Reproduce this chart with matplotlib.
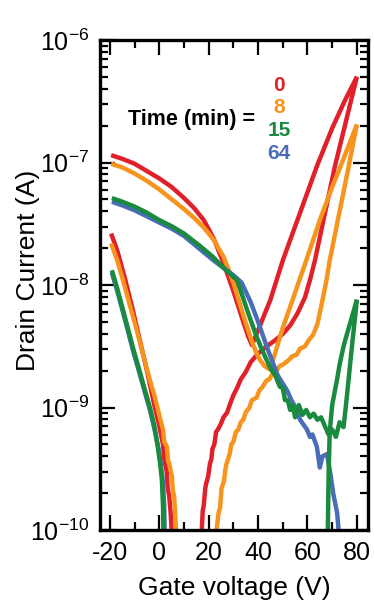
import numpy as np
import matplotlib
matplotlib.use('Agg')
import matplotlib.pyplot as plt
from matplotlib.ticker import FixedLocator, FixedFormatter, LogLocator, NullFormatter

plt.rcParams['font.family'] = ['Liberation Sans', 'DejaVu Sans']
plt.rcParams['mathtext.default'] = 'regular'
plt.rcParams['axes.unicode_minus'] = False

# colours for each time step
RED = '#E0202A'
ORANGE = '#F7941E'
GREEN = '#1A8A3F'
BLUE = '#4A6DB8'

# gate voltage (V) and log10 of drain current (A)
# 0 min, sweep back from +80 V
red_rev_v = [-19.5, -15, -10, -5, 0, 5, 10, 14, 18, 22, 26, 30, 34, 36, 37.5,
             40, 45, 50, 57, 64, 70, 75, 80]
red_rev_log = [-6.94, -6.97, -7.01, -7.07, -7.13, -7.20, -7.29, -7.37, -7.47, -7.62,
               -7.82, -8.05, -8.30, -8.42, -8.49, -8.37, -8.12, -7.80, -7.41, -7.02,
               -6.72, -6.50, -6.30]
# 0 min, sweep up from -20 V
red_fwd1_v = [-19.5, -17, -14, -11, -8, -5, -2, 0, 1.5, 2, 3, 3.4, 4, 4.6, 5, 5.5]
red_fwd1_log = [-7.58, -7.72, -7.94, -8.18, -8.44, -8.70, -8.98, -9.15, -9.30, -9.42,
                -9.52, -9.66, -9.72, -9.86, -10.0, -10.3]
red_fwd2_v = [16.8, 17.2, 17.6, 18, 18.6, 19, 19.8, 20.5, 21.1, 21.5, 22.3, 23, 24,
              25, 26, 27.5, 28.5, 30, 31.5, 33, 35, 37, 40, 43.5, 47, 50, 53, 56, 59,
              61, 63, 67, 71, 75.5, 80]
red_fwd2_log = [-10.3, -10.0, -9.84, -9.80, -9.66, -9.62, -9.56, -9.46, -9.42, -9.34,
                -9.30, -9.20, -9.17, -9.13, -9.08, -9.04, -8.98, -8.90, -8.84, -8.77,
                -8.71, -8.63, -8.56, -8.50, -8.45, -8.40, -8.33, -8.23, -8.10, -7.96,
                -7.80, -7.42, -7.04, -6.67, -6.30]

# 8 min
orange_rev_v = [-19.5, -15, -10, -5, 0, 5, 10, 14, 18, 22, 26, 28, 30, 33, 35, 37.3,
                39, 40.7, 42.5, 44.8, 47, 50, 54, 60, 65, 70, 75, 80]
orange_rev_log = [-7.01, -7.04, -7.09, -7.15, -7.22, -7.30, -7.38, -7.45, -7.53, -7.63,
                  -7.77, -7.87, -7.98, -8.18, -8.31, -8.45, -8.54, -8.61, -8.66, -8.69,
                  -8.55, -8.35, -8.12, -7.77, -7.47, -7.20, -6.95, -6.69]
orange_fwd1_v = [-19.5, -17, -14.7, -12, -9.1, -6.5, -3.8, -2, -1, 0.2, 1.5, 2, 3.1,
                 3.6, 4, 5.1, 5.5, 6, 6.4, 6.7, 7.3]
orange_fwd1_log = [-7.66, -7.80, -7.96, -8.16, -8.37, -8.57, -8.78, -8.90, -8.98, -9.08,
                   -9.18, -9.28, -9.32, -9.44, -9.46, -9.56, -9.68, -9.72, -9.86, -9.98,
                   -10.3]
orange_fwd2_v = [22.8, 23.2, 24, 24.6, 25.2, 26.2, 26.8, 27.2, 28.5, 29.2, 30, 31, 32,
                 33, 34, 35, 36.5, 37.5, 39.4, 40.5, 41.5, 43.4, 44.5, 46, 47.5, 48.8,
                 50, 52, 54, 55.6, 57, 59, 60.5, 62.2, 64, 65.5, 67.7, 69, 72, 76, 80]
orange_fwd2_log = [-10.3, -10.0, -9.86, -9.82, -9.66, -9.60, -9.50, -9.46, -9.38, -9.30,
                   -9.28, -9.20, -9.18, -9.12, -9.10, -9.04, -9.00, -8.94, -8.92, -8.86,
                   -8.84, -8.78, -8.77, -8.72, -8.70, -8.66, -8.65, -8.62, -8.58, -8.57,
                   -8.52, -8.50, -8.45, -8.41, -8.32, -8.18, -7.96, -7.80, -7.50, -7.10,
                   -6.69]

# 15 min
green_rev_v = [-19.2, -15, -10, -5, 0, 5, 10, 16.4, 21.7, 26, 31.4, 33, 36, 39, 41.6,
               45, 47, 48.8, 50, 50.9, 52, 53, 54, 55, 56.5, 58, 59.5, 61, 62.5, 64,
               65.5, 67, 68.5, 70, 71.5, 73, 74.6, 76, 78, 80]
green_rev_log = [-7.29, -7.32, -7.36, -7.41, -7.47, -7.52, -7.58, -7.68, -7.77, -7.86,
                 -7.96, -8.05, -8.23, -8.40, -8.53, -8.68, -8.74, -8.83, -8.84, -8.94,
                 -8.94, -9.02, -8.98, -9.08, -8.98, -9.06, -9.02, -9.08, -9.05, -9.10,
                 -9.08, -9.15, -9.22, -9.18, -9.24, -9.12, -9.16, -8.90, -8.50, -8.12]
green_fwd1_v = [-19.2, -17, -15, -12.5, -10.7, -8, -5.5, -3.8, -2, -0.6, 0.3, 1.05,
                1.5, 1.9]
green_fwd1_log = [-7.88, -8.03, -8.18, -8.37, -8.51, -8.70, -8.88, -9.00, -9.15, -9.32,
                  -9.45, -9.59, -9.80, -10.3]
green_fwd2_v = [68.0, 68.3, 68.6, 69, 70, 71.9, 73, 74.6, 76, 78, 80]
green_fwd2_log = [-10.3, -9.9, -9.5, -9.2, -8.98, -8.78, -8.65, -8.50, -8.40, -8.26,
                  -8.12]

# 64 min
blue_rev_v = [-19.2, -15, -10, -5, 0, 5, 10, 16, 22, 26, 30, 33.3, 37, 40, 44, 48,
              51.7, 53.5, 55.7, 57, 59.8, 61, 62, 63.8, 65, 66, 67.9, 69.2, 70.4, 72,
              72.6, 73]
blue_rev_log = [-7.32, -7.35, -7.39, -7.44, -7.49, -7.54, -7.60, -7.70, -7.80, -7.86,
                -7.92, -7.98, -8.14, -8.30, -8.53, -8.74, -8.86, -8.94, -9.02, -9.10,
                -9.18, -9.24, -9.22, -9.32, -9.49, -9.40, -9.38, -9.53, -9.70, -9.86,
                -10.0, -10.3]
blue_fwd1_v = [-19.2, -17, -15, -12.5, -10.7, -8, -5.5, -3.8, -2, -0.4, 0.6, 1.4, 2.0,
               2.4]
blue_fwd1_log = [-7.90, -8.05, -8.20, -8.39, -8.53, -8.72, -8.90, -9.02, -9.17, -9.33,
                 -9.46, -9.60, -9.80, -10.3]

times = ['0', '8', '15', '64']
time_colors = [RED, ORANGE, GREEN, BLUE]

traces = [
    (red_rev_v, red_rev_log, RED),
    (red_fwd1_v, red_fwd1_log, RED),
    (red_fwd2_v, red_fwd2_log, RED),
    (orange_rev_v, orange_rev_log, ORANGE),
    (orange_fwd1_v, orange_fwd1_log, ORANGE),
    (orange_fwd2_v, orange_fwd2_log, ORANGE),
    (blue_rev_v, blue_rev_log, BLUE),
    (blue_fwd1_v, blue_fwd1_log, BLUE),
    (green_rev_v, green_rev_log, GREEN),
    (green_fwd1_v, green_fwd1_log, GREEN),
    (green_fwd2_v, green_fwd2_log, GREEN),
]

fig = plt.figure(figsize=(3.74, 6.06), dpi=100)
ax = fig.add_axes([100 / 374, 76 / 606, 268 / 374, 490 / 606])

for v, logi, c in traces:
    ax.plot(v, 10.0 ** np.array(logi), color=c, lw=3.2, solid_capstyle='butt',
            solid_joinstyle='round')

ax.set_yscale('log')
ax.set_xlim(-24, 84.5)
ax.set_ylim(1e-10, 1e-6)

ax.xaxis.set_major_locator(FixedLocator([-20, 0, 20, 40, 60, 80]))
ax.xaxis.set_minor_locator(FixedLocator([-10, 10, 30, 50, 70]))
dec = [1e-10, 1e-9, 1e-8, 1e-7, 1e-6]
ax.yaxis.set_major_locator(FixedLocator(dec))
ax.yaxis.set_major_formatter(FixedFormatter([r'$10^{-10}$', r'$10^{-9}$', r'$10^{-8}$',
                                             r'$10^{-7}$', r'$10^{-6}$']))
ax.yaxis.set_minor_locator(LogLocator(base=10, subs=np.arange(2, 10), numticks=20))
ax.yaxis.set_minor_formatter(NullFormatter())

ax.tick_params(which='both', direction='in', top=True, right=True, width=1.6)
ax.tick_params(which='major', length=11, labelsize=18, pad=8)
ax.tick_params(which='minor', length=6)
for s in ax.spines.values():
    s.set_linewidth(2.4)

ax.set_xlabel('Gate voltage (V)', fontsize=19, labelpad=8)
ax.set_ylabel('Drain Current (A)', fontsize=19)
ax.yaxis.set_label_coords(-0.225, 0.53)

ax.text(0.341, 0.837, 'Time (min) =', transform=ax.transAxes, ha='center',
        va='center', fontsize=15.5, fontweight='bold')
for i, (t, c) in enumerate(zip(times, time_colors)):
    ax.text(0.668, 0.908 - i * 0.0465, t, transform=ax.transAxes, ha='center',
            va='center', fontsize=15, fontweight='bold', color=c)

fig.savefig('out.png', dpi=100)
